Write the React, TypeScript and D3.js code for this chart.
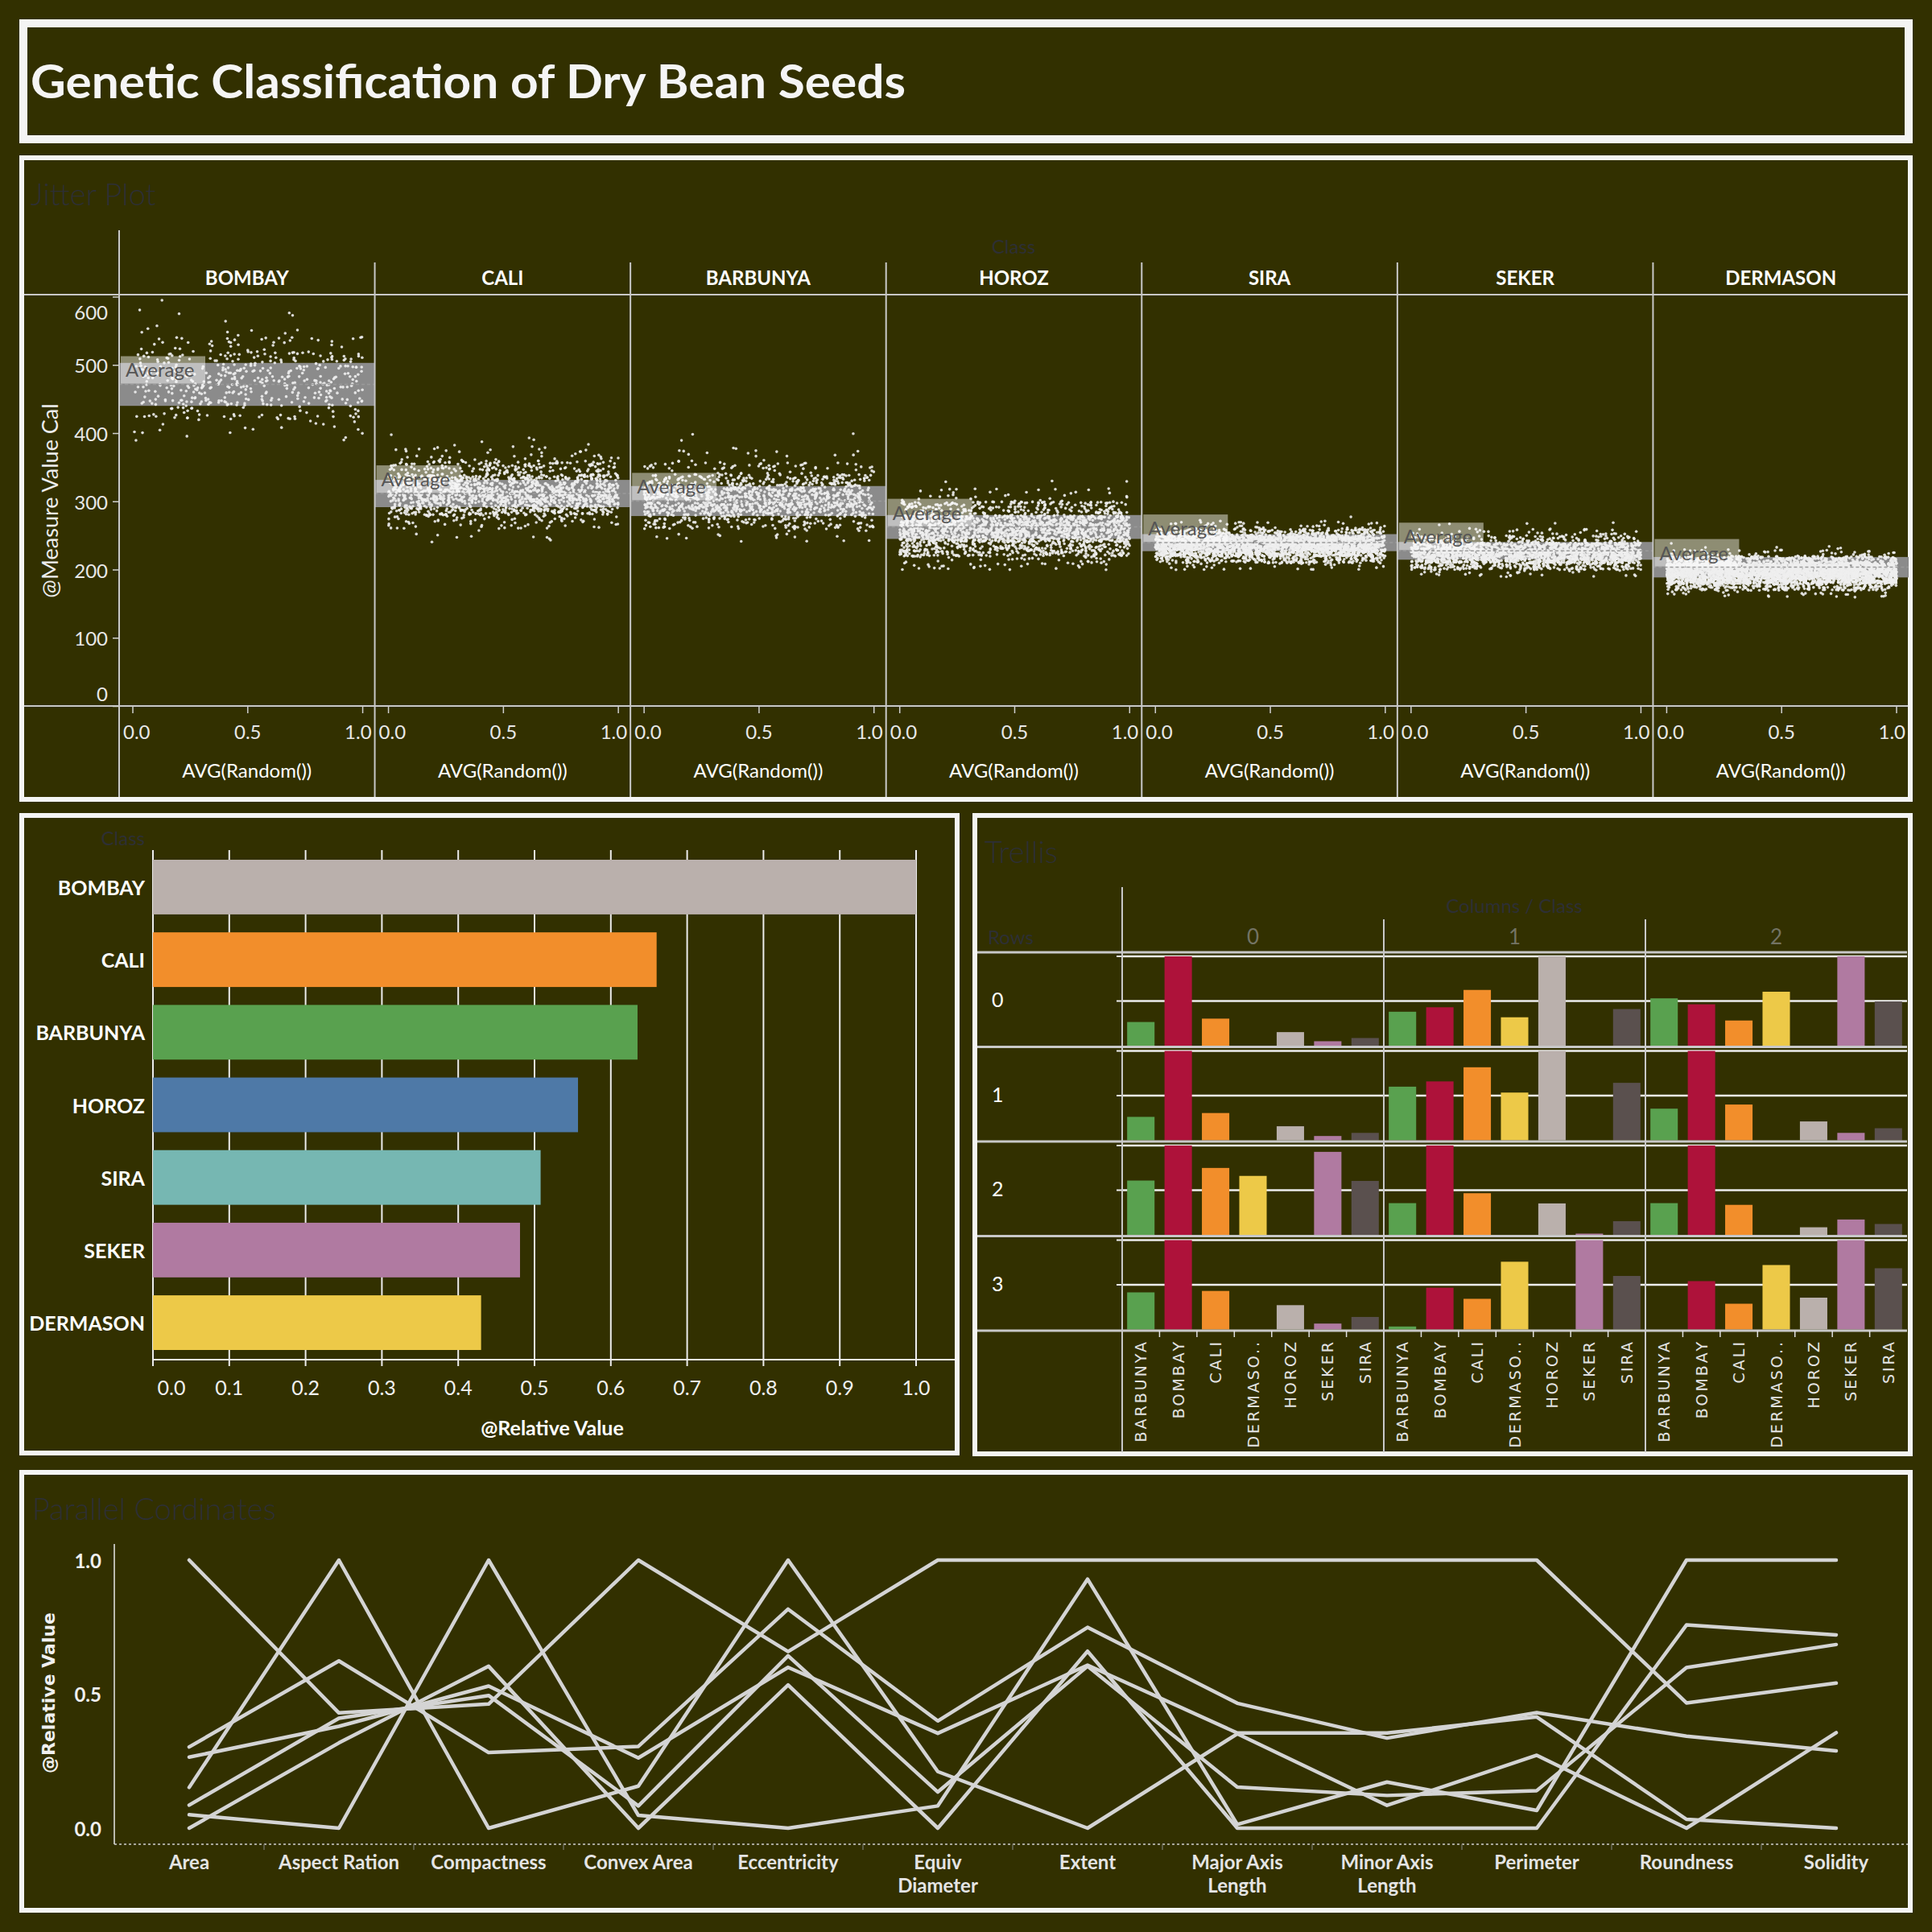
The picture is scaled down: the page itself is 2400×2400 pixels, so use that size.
import React, { useMemo } from "react";
import * as d3 from "d3";

const W = 2400;
const H = 2400;
const BG = "#323000";
const FRAME = "#f4f4f4";
const DIM = "#2d2f35"; // sheet titles that almost vanish into the background
const FONT = "Lato, 'Open Sans', sans-serif";
const WIDE = "'DejaVu Sans', Verdana, sans-serif";

const TITLE = "Genetic Classification of Dry Bean Seeds";

// ---- jitter plot (calories by class) ----
const JITTER_CLASSES = ["BOMBAY", "CALI", "BARBUNYA", "HOROZ", "SIRA", "SEKER", "DERMASON"];
const CAL_AVG = [472, 312, 301, 263, 240, 228, 204];
const CAL_BAND_HALF = [31.5, 20, 22, 17.5, 12.5, 13, 15];
const CAL_TICKS = [0, 100, 200, 300, 400, 500, 600];
// point counts per calorie bin
const CAL_BIN_START = [380, 240, 240, 200, 200, 190, 160];
const CAL_BIN_WIDTH = [20, 20, 20, 20, 10, 10, 10];
const BOMBAY_COUNTS = [4, 15, 50, 95, 115, 105, 80, 35, 12, 4, 2];
const CALI_COUNTS = [10, 80, 360, 560, 400, 170, 40, 8];
const BARBUNYA_COUNTS = [20, 150, 420, 420, 230, 65, 15, 3];
const HOROZ_COUNTS = [60, 350, 650, 600, 230, 35, 3];
const SIRA_COUNTS = [30, 250, 600, 800, 650, 250, 50, 6];
const SEKER_COUNTS = [30, 220, 550, 620, 420, 140, 40, 7];
const DERMASON_COUNTS = [30, 260, 800, 1100, 950, 350, 50, 6];
const CAL_COUNTS = [BOMBAY_COUNTS, CALI_COUNTS, BARBUNYA_COUNTS, HOROZ_COUNTS, SIRA_COUNTS, SEKER_COUNTS, DERMASON_COUNTS];

// ---- bar chart ----
const BAR_CLASSES = ["BOMBAY", "CALI", "BARBUNYA", "HOROZ", "SIRA", "SEKER", "DERMASON"];
const BAR_VALUES = [1.0, 0.66, 0.635, 0.557, 0.508, 0.481, 0.43];
const BAR_COLORS = ["#bab0ac", "#f28e2b", "#59a14f", "#4e79a7", "#76b7b2", "#b07aa1", "#edc948"];
const BAR_TICKS = [0, 0.1, 0.2, 0.3, 0.4, 0.5, 0.6, 0.7, 0.8, 0.9, 1.0];

// ---- relative feature values (trellis + parallel coordinates) ----
const FEATURES = [
  "Area", "Aspect Ration", "Compactness", "Convex Area", "Eccentricity", "Equiv Diameter",
  "Extent", "Major Axis Length", "Minor Axis Length", "Perimeter", "Roundness", "Solidity",
];
const FEATURE_LABELS = [
  ["Area"], ["Aspect Ration"], ["Compactness"], ["Convex Area"], ["Eccentricity"], ["Equiv", "Diameter"],
  ["Extent"], ["Major Axis", "Length"], ["Minor Axis", "Length"], ["Perimeter"], ["Roundness"], ["Solidity"],
];
const TRELLIS_CLASSES = ["BARBUNYA", "BOMBAY", "CALI", "DERMASON", "HOROZ", "SEKER", "SIRA"];
const TRELLIS_LABELS = ["BARBUNYA", "BOMBAY", "CALI", "DERMASO..", "HOROZ", "SEKER", "SIRA"];
const TRELLIS_COLORS = ["#59a14f", "#ae123a", "#f28e2b", "#edc948", "#bab0ac", "#b07aa1", "#5a504e"];
const BARBUNYA_REL = [0.265, 0.38, 0.53, 0.262, 0.6, 0.354, 0.608, 0.355, 0.355, 0.415, 0.033, 0];
const BOMBAY_REL = [1, 0.43, 0.463, 1, 0.659, 1, 1, 1, 1, 1, 0.467, 0.541];
const CALI_REL = [0.303, 0.624, 0.282, 0.305, 0.817, 0.4, 0.749, 0.466, 0.336, 0.431, 0.343, 0.288];
const DERMASON_REL = [0, 0.318, 0.604, 0, 0.534, 0, 0.66, 0, 0, 0, 0.758, 0.721];
const HOROZ_REL = [0.152, 1, 0, 0.157, 1, 0.211, 0, 0.352, 0.085, 0.272, 0, 0.356];
const SEKER_REL = [0.05, 0, 1, 0.048, 0, 0.083, 0.929, 0.014, 0.172, 0.066, 1, 1];
const SIRA_REL = [0.086, 0.41, 0.495, 0.083, 0.643, 0.135, 0.604, 0.153, 0.122, 0.14, 0.599, 0.685];
const REL = [BARBUNYA_REL, BOMBAY_REL, CALI_REL, DERMASON_REL, HOROZ_REL, SEKER_REL, SIRA_REL];
const TRELLIS_ROWS = [0, 1, 2, 3];
const TRELLIS_COLS = [0, 1, 2];
const PC_TICKS = [0, 0.5, 1];

// seeded so the picture is stable; stands in for Random() of the source workbook
function seeded(seed: number) {
  let a = seed;
  return () => {
    a = (a + 0x6d2b79f5) | 0;
    let t = Math.imul(a ^ (a >>> 15), 1 | a);
    t = (t + Math.imul(t ^ (t >>> 7), 61 | t)) ^ t;
    return ((t ^ (t >>> 14)) >>> 0) / 4294967296;
  };
}

function Frame({ x0, y0, x1, y1, sw }: { x0: number; y0: number; x1: number; y1: number; sw: number }) {
  return (
    <rect x={x0 + sw / 2} y={y0 + sw / 2} width={x1 - x0 - sw} height={y1 - y0 - sw}
      fill={BG} stroke={FRAME} strokeWidth={sw} />
  );
}

export default function App() {
  const points = useMemo(() => {
    const rnd = seeded(7141);
    return CAL_COUNTS.map((counts, ci) => {
      const out: { r: number; v: number }[] = [];
      counts.forEach((n, bi) => {
        const lo = CAL_BIN_START[ci] + bi * CAL_BIN_WIDTH[ci];
        for (let k = 0; k < n; k++) out.push({ r: rnd(), v: lo + rnd() * CAL_BIN_WIDTH[ci] });
      });
      return out;
    });
  }, []);

  // jitter scales
  const jx = d3.scaleBand<string>().domain(JITTER_CLASSES).range([148, 2371]);
  const jy = d3.scaleLinear().domain([0, 600]).range([877.5, 369]);
  const jbw = jx.bandwidth();

  // bar scales
  const bx = d3.scaleLinear().domain([0, 1]).range([190, 1138]);
  const by = d3.scaleBand<string>().domain(BAR_CLASSES).range([1056, 1689]).paddingInner(0.247).paddingOuter(0.133);

  // trellis scales
  const tCol = d3.scaleBand<number>().domain(TRELLIS_COLS).range([1394, 2369]);
  const tRow = d3.scaleBand<number>().domain(TRELLIS_ROWS).range([1183, 1653]);

  // parallel scales
  const px = d3.scaleBand<string>().domain(FEATURES).range([142, 2374]);
  const py = d3.scaleLinear().domain([0, 1]).range([2271, 1938]);
  const pline = d3.line<number>().x((_, i) => px(FEATURES[i])! + px.bandwidth() / 2).y((v) => py(v));

  return (
    <svg width={W} height={H} style={{ position: "absolute", left: 0, top: 0, display: "block" }} fontFamily={FONT}>
      <rect width={W} height={H} fill={BG} />

      {/* title */}
      <Frame x0={24} y0={24} x1={2376} y1={178} sw={10} />
      <text x={38} y={122} fontSize={58} fontWeight={700} fill="#f5f5f5" textLength={1087} lengthAdjust="spacingAndGlyphs">
        {TITLE}
      </text>

      {/* jitter plot */}
      <Frame x0={24} y0={193} x1={2376} y1={996} sw={6} />
      <text x={38} y={255} fontSize={38} fontWeight={300} fill={DIM}>Jitter Plot</text>
      <text x={1259} y={315} fontSize={24} fill={DIM} textAnchor="middle">Class</text>
      {JITTER_CLASSES.map((cls, i) => {
        const x0 = jx(cls)!;
        const sx = d3.scaleLinear().domain([0, 1]).range([x0 + 17, x0 + jbw - 15]);
        const avg = CAL_AVG[i];
        const half = CAL_BAND_HALF[i];
        const ay = jy(avg);
        return (
          <g key={cls}>
            <rect x={x0} y={jy(avg + half)} width={jbw} height={jy(avg - half) - jy(avg + half)} fill="#8b8b8b" />
            {points[i].map((p, k) => (
              <circle key={k} cx={sx(p.r)} cy={jy(p.v)} r={1.8} fill="#eeeeee" fillOpacity={0.9} />
            ))}
            <line x1={x0} x2={x0 + jbw} y1={ay} y2={ay} stroke="#9a9a9a" strokeWidth={1.5} strokeDasharray="4 3" />
            <rect x={x0 + 2} y={ay - 35} width={105} height={34} fill="#ffffff" fillOpacity={0.45} />
            <text x={x0 + 8} y={ay - 9} fontSize={24} fill="#555555">Average</text>
            <text x={x0 + jbw / 2} y={354} fontSize={24} fontWeight={700} fill="#ffffff" textAnchor="middle">{cls}</text>
            {[0, 0.5, 1].map((t) => (
              <line key={t} x1={sx(t)} x2={sx(t)} y1={877} y2={886} stroke="#d0d0d0" strokeWidth={1.5} />
            ))}
            <text x={x0 + 5} y={908} fontSize={24} fill="#e8e8e8" dominantBaseline="central">0.0</text>
            <text x={sx(0.5)} y={908} fontSize={24} fill="#e8e8e8" textAnchor="middle" dominantBaseline="central">0.5</text>
            <text x={x0 + jbw - 4} y={908} fontSize={24} fill="#e8e8e8" textAnchor="end" dominantBaseline="central">1.0</text>
            <text x={x0 + jbw / 2} y={956} fontSize={24} fill="#ffffff" textAnchor="middle" dominantBaseline="central">AVG(Random())</text>
            {i > 0 && <line x1={x0} x2={x0} y1={326} y2={990} stroke="#c8c8c8" strokeWidth={2} />}
          </g>
        );
      })}
      <line x1={148} x2={148} y1={286} y2={990} stroke="#c8c8c8" strokeWidth={2} />
      <line x1={30} x2={2370} y1={366} y2={366} stroke="#c8c8c8" strokeWidth={2} />
      <line x1={30} x2={2370} y1={877} y2={877} stroke="#c8c8c8" strokeWidth={2} />
      {CAL_TICKS.map((t) => {
        const ty = jy(t);
        const ly = t === 600 ? 387 : t === 0 ? 861 : ty;
        return (
          <g key={t}>
            <line x1={140} x2={148} y1={ty} y2={ty} stroke="#d0d0d0" strokeWidth={1.5} />
            <text x={134} y={ly} fontSize={24} fill="#e8e8e8" textAnchor="end" dominantBaseline="central">{t}</text>
          </g>
        );
      })}
      <text transform="translate(61,622) rotate(-90)" fontSize={27} fill="#ececec" textAnchor="middle" dominantBaseline="central">
        @Measure Value Cal
      </text>

      {/* bar chart */}
      <Frame x0={24} y0={1010} x1={1192} y1={1808} sw={6} />
      <text x={180} y={1040} fontSize={24} fill={DIM} textAnchor="end" dominantBaseline="central">Class</text>
      {BAR_TICKS.map((t) => (
        <g key={t}>
          <line x1={bx(t)} x2={bx(t)} y1={1056} y2={1697} stroke="#ececec" strokeWidth={2} />
          <text x={t === 0 ? bx(t) + 23 : bx(t)} y={1723} fontSize={25} fill="#f0f0f0" textAnchor="middle" dominantBaseline="central">
            {t.toFixed(1)}
          </text>
        </g>
      ))}
      {BAR_CLASSES.map((cls, i) => (
        <g key={cls}>
          <rect x={bx(0)} y={by(cls)} width={bx(BAR_VALUES[i]) - bx(0)} height={by.bandwidth()} fill={BAR_COLORS[i]} />
          <text x={180} y={by(cls)! + by.bandwidth() / 2} fontSize={25} fontWeight={700} fill="#ffffff" textAnchor="end" dominantBaseline="central">
            {cls}
          </text>
        </g>
      ))}
      <line x1={190} x2={1186} y1={1689} y2={1689} stroke="#ececec" strokeWidth={2} />
      <text x={686} y={1773} fontSize={25} fontWeight={700} fill="#ffffff" textAnchor="middle" dominantBaseline="central">@Relative Value</text>

      {/* trellis */}
      <Frame x0={1208} y0={1010} x1={2376} y1={1809} sw={6} />
      <defs>
        <clipPath id="trellis-yaxis"><rect x={1376} y={1183} width={18} height={470} /></clipPath>
      </defs>
      <text x={1223} y={1072} fontSize={38} fontWeight={300} fill={DIM}>Trellis</text>
      <text x={1881} y={1124} fontSize={24} fill={DIM} textAnchor="middle" dominantBaseline="central">Columns / Class</text>
      <text x={1227} y={1163} fontSize={24} fill={DIM} dominantBaseline="central">Rows</text>
      {TRELLIS_COLS.map((c) => (
        <text key={c} x={tCol(c)! + tCol.bandwidth() / 2} y={1163} fontSize={26} fill="#737363" textAnchor="middle" dominantBaseline="central">
          {c}
        </text>
      ))}
      {TRELLIS_ROWS.map((r) => {
        const top = tRow(r)!;
        const vy = d3.scaleLinear().domain([0, 1]).range([top + 116, top + 5]);
        return (
          <g key={r}>
            <line x1={1214} x2={2369} y1={top} y2={top} stroke="#c8c8c8" strokeWidth={3} />
            {[0.5, 1].map((g) => (
              <g key={g}>
                <line x1={1394} x2={2369} y1={vy(g)} y2={vy(g)} stroke="#eeeeee" strokeWidth={2.5} />
                <line x1={1387} x2={1394} y1={vy(g)} y2={vy(g)} stroke="#eeeeee" strokeWidth={2} />
              </g>
            ))}
            <text transform={`translate(1384,${top + 58}) rotate(-90)`} fontSize={24} fill={DIM} textAnchor="middle"
              dominantBaseline="central" clipPath="url(#trellis-yaxis)">@Relative Value</text>
            <text x={1232} y={top + 58} fontSize={25} fill="#ffffff" dominantBaseline="central">{r}</text>
            {TRELLIS_COLS.map((c) => {
              const f = r * 3 + c;
              const cx = d3.scaleBand<string>().domain(TRELLIS_CLASSES).range([tCol(c)!, tCol(c)! + tCol.bandwidth()])
                .paddingInner(0.267).paddingOuter(0.133);
              return TRELLIS_CLASSES.map((cls, k) => {
                const v = REL[k][f];
                if (v <= 0) return null;
                return <rect key={`${c}-${cls}`} x={cx(cls)} y={vy(v)} width={cx.bandwidth()} height={vy(0) - vy(v)} fill={TRELLIS_COLORS[k]} />;
              });
            })}
          </g>
        );
      })}
      <line x1={1214} x2={2369} y1={1653} y2={1653} stroke="#c8c8c8" strokeWidth={3} />
      {TRELLIS_COLS.map((c) => {
        const cx = d3.scaleBand<string>().domain(TRELLIS_CLASSES).range([tCol(c)!, tCol(c)! + tCol.bandwidth()])
          .paddingInner(0.267).paddingOuter(0.133);
        return (
          <g key={c}>
            {TRELLIS_CLASSES.map((cls, k) => (
              <g key={cls}>
                {k > 0 && <line x1={cx(cls)! - cx.step() * 0.133} x2={cx(cls)! - cx.step() * 0.133} y1={1653} y2={1661} stroke="#e0e0e0" strokeWidth={1.5} />}
                <text transform={`translate(${cx(cls)! + cx.bandwidth() / 2},1664) rotate(-90)`} fontFamily={WIDE} fontSize={19}
                  letterSpacing={3} fill="#e2e2e2" textAnchor="end" dominantBaseline="central">
                  {TRELLIS_LABELS[k]}
                </text>
              </g>
            ))}
            {c > 0 && <line x1={tCol(c)} x2={tCol(c)} y1={1142} y2={1804} stroke="#c8c8c8" strokeWidth={2} />}
          </g>
        );
      })}
      <line x1={1394} x2={1394} y1={1102} y2={1804} stroke="#c8c8c8" strokeWidth={2} />

      {/* parallel coordinates */}
      <Frame x0={24} y0={1826} x1={2376} y1={2376} sw={6} />
      <text x={40} y={1888} fontSize={38} fontWeight={300} fill={DIM}>Parallel Cordinates</text>
      <line x1={142} x2={142} y1={1918} y2={2291} stroke="#e8e8e8" strokeWidth={1.5} />
      {PC_TICKS.map((t) => (
        <text key={t} x={126} y={py(t)} fontSize={24} fontWeight={700} fill="#f0f0f0" textAnchor="end" dominantBaseline="central">
          {t.toFixed(1)}
        </text>
      ))}
      <text transform="translate(60,2103) rotate(-90)" fontFamily={WIDE} fontSize={22} fontWeight={700} fill="#f0f0f0"
        textAnchor="middle" dominantBaseline="central">@Relative Value</text>
      <line x1={142} x2={2370} y1={2291} y2={2291} stroke="#cfcfcf" strokeWidth={1.5} strokeDasharray="3 3" />
      {FEATURES.map((f, i) => (
        <g key={f}>
          {i > 0 && <line x1={px(f)} x2={px(f)} y1={2291} y2={2298} stroke="#6a6a5a" strokeWidth={1.5} />}
          {FEATURE_LABELS[i].map((ln, j) => (
            <text key={j} x={px(f)! + px.bandwidth() / 2} y={2312 + j * 29} fontSize={24} fontWeight={700} fill="#e4e4e4"
              textAnchor="middle" dominantBaseline="central">{ln}</text>
          ))}
        </g>
      ))}
      {REL.map((vals, k) => (
        <path key={k} d={pline(vals) || ""} fill="none" stroke="#d4d4d4" strokeWidth={4.5} strokeLinejoin="round" strokeLinecap="round" />
      ))}
    </svg>
  );
}
